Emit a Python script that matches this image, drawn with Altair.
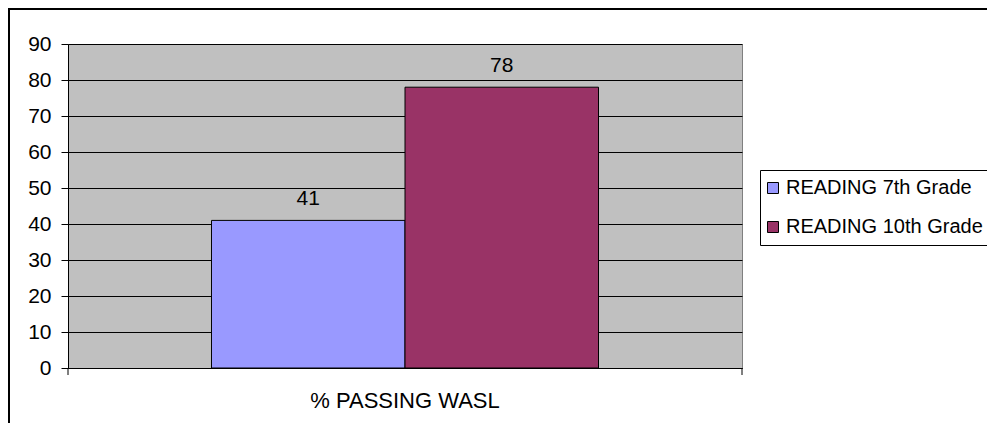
import altair as alt
import pandas as pd

# ---- data ----
groups = ["% PASSING WASL", "% PASSING WASL"]
series = ["READING 7th Grade", "READING 10th Grade"]
values = [41, 78]
colors = ["#9999FF", "#993366"]
y_ticks = [0, 10, 20, 30, 40, 50, 60, 70, 80, 90]

df = pd.DataFrame({"group": groups, "series": series, "value": values})
one = pd.DataFrame({"k": [0]})

W, H = 674, 324
PAD = {"left": 60, "top": 36, "right": 245, "bottom": 55}
FONT = "Liberation Sans"

x_enc = alt.X(
    "group:N",
    scale=alt.Scale(paddingOuter=0.3708, paddingInner=0),
    axis=alt.Axis(
        title=None, labelAngle=0, ticks=False, labelPadding=22,
        domainColor="black", labelFontSize=22, labelColor="black",
        labelLimit=0, labelFont=FONT,
    ),
)
xo_enc = alt.XOffset("series:N", sort=series,
                     scale=alt.Scale(paddingInner=0, paddingOuter=0))
y_enc = alt.Y(
    "value:Q",
    scale=alt.Scale(domain=[0, 90], nice=False),
    axis=alt.Axis(
        values=y_ticks, tickCount=10, title=None, grid=True, gridColor="black",
        gridOpacity=1, gridWidth=1, tickSize=7, tickColor="black",
        labelPadding=10, domainColor="black", labelFontSize=21,
        labelColor="black", labelOverlap=False, labelFont=FONT,
    ),
)

bars = alt.Chart(df).mark_bar(stroke="black", strokeWidth=1, opacity=1).encode(
    x=x_enc,
    xOffset=xo_enc,
    y=y_enc,
    color=alt.Color(
        "series:N", sort=series,
        scale=alt.Scale(domain=series, range=colors),
        legend=alt.Legend(
            title=None, orient="none", legendX=692, legendY=126,
            padding=8, rowPadding=19, strokeColor="black", fillColor="white",
            symbolType="square", symbolSize=121, symbolStrokeColor="black",
            symbolStrokeWidth=1, symbolOpacity=1, symbolOffset=-5,
            labelFontSize=20, labelOffset=3, labelColor="black",
            labelFont=FONT, labelLimit=0,
        ),
    ),
)

labels = alt.Chart(df).mark_text(
    dy=-15, fontSize=21, baseline="alphabetic", color="black", font=FONT
).encode(
    x=x_enc,
    xOffset=xo_enc,
    y=y_enc,
    text=alt.Text("value:Q"),
)

# x-axis edge ticks (Excel style, at category boundaries)
tick_left = alt.Chart(one).mark_rule(color="black", strokeWidth=1).encode(
    x=alt.value(0), y=alt.value(H), y2=alt.value(H + 7))
tick_right = alt.Chart(one).mark_rule(color="black", strokeWidth=1).encode(
    x=alt.value(W), y=alt.value(H), y2=alt.value(H + 7))

# outer chart frame (top and left edges visible)
frame_top = alt.Chart(one).mark_rule(color="black", strokeWidth=2).encode(
    x=alt.value(-PAD["left"]), x2=alt.value(W + PAD["right"]),
    y=alt.value(-PAD["top"] + 1))
frame_left = alt.Chart(one).mark_rule(color="black", strokeWidth=2).encode(
    x=alt.value(-PAD["left"] + 1), y=alt.value(-PAD["top"]),
    y2=alt.value(H + PAD["bottom"]))

chart = alt.layer(bars, labels, tick_left, tick_right, frame_top, frame_left).properties(
    width=W, height=H, padding=PAD, autosize="none", background="white",
).configure(font=FONT).configure_view(
    fill="#C0C0C0", stroke="#808080", strokeWidth=1
)

chart.save("out.html", embed_options={"renderer": "svg", "actions": False})
